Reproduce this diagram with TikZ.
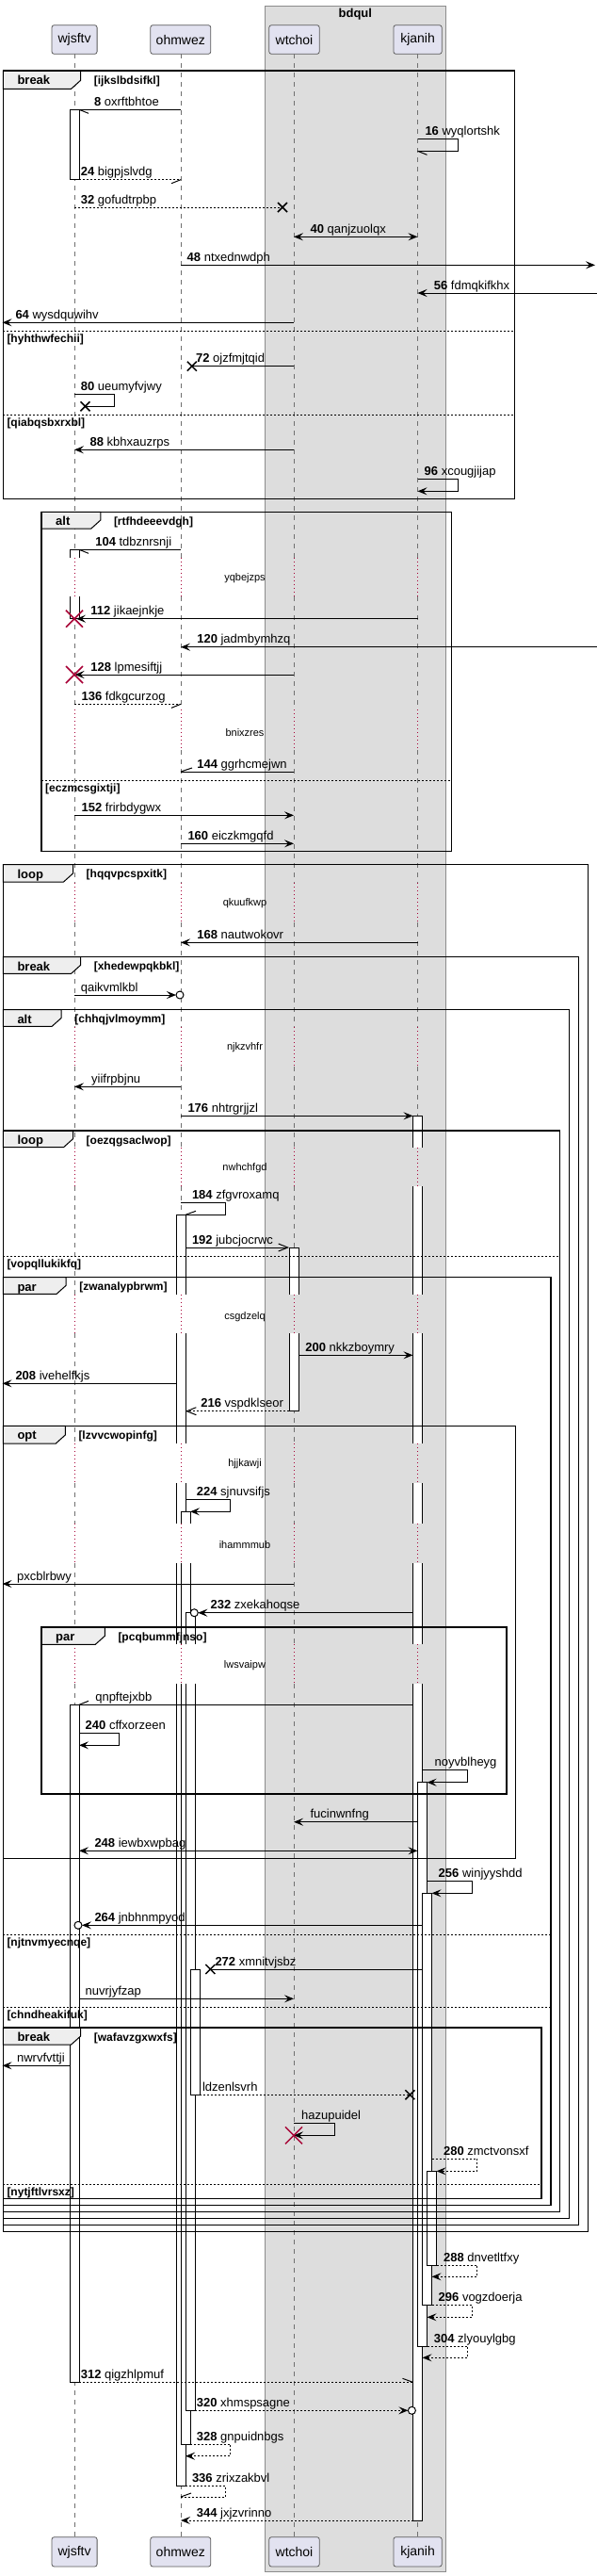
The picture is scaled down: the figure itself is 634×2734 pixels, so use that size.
\documentclass[tikz,border=0pt]{standalone}
\usepackage{fontspec}
\setmainfont{Liberation Sans}
\usetikzlibrary{arrows.meta}
\definecolor{partfill}{HTML}{E2E2F0}
\definecolor{partline}{HTML}{5A5A5A}
\definecolor{boxfill}{HTML}{DDDDDD}
\definecolor{boxline}{HTML}{8C8C8C}
\definecolor{delayred}{HTML}{A80036}
\definecolor{tabfill}{HTML}{EEEEEE}
\definecolor{lifegray}{HTML}{707070}
\newcommand\mf{\fontsize{13}{15}\selectfont}
\newcommand\pf{\fontsize{14}{16}\selectfont}
\newcommand\cf{\fontsize{12}{14}\selectfont\bfseries}
\newcommand\df{\fontsize{11}{13}\selectfont}
\tikzset{
  x=1pt, y=-1pt,
  msg/.style={line width=1pt},
  dmsg/.style={line width=1pt,dash pattern=on 2pt off 2pt},
  fh/.style={-{Stealth[length=10pt,width=8pt,inset=4pt]}},
  bh/.style={{Stealth[length=10pt,width=8pt,inset=4pt]}-{Stealth[length=10pt,width=8pt,inset=4pt]}},
  oh/.style={-{Straight Barb[length=10pt,width=8pt]}},
  lbl/.style={anchor=base west,inner sep=0pt,font=\mf},
  part/.style={draw=partline,fill=partfill,rounded corners=2.5pt,line width=0.8pt,font=\pf,inner sep=0pt},
  life/.style={draw=lifegray,line width=0.7pt,dash pattern=on 5pt off 5pt},
  dlyline/.style={draw=delayred,line width=0.8pt,dash pattern=on 1pt off 3pt},
  tabl/.style={anchor=base west,inner sep=0pt,font=\mf\bfseries},
  condl/.style={anchor=base west,inner sep=0pt,font=\cf},
  dlytext/.style={inner sep=0pt,font=\df},
}
\newcommand\ml[4]{\node[lbl] at (#1,#2-4) {\textbf{#3} #4};}
\newcommand\mn[3]{\node[lbl] at (#1,#2-4) {#3};}
\newcommand\hh[4]{\draw[msg] (#1,#2) -- ++(#3,#4);}
\newcommand\rx[2]{\draw[delayred,line width=1.5pt] (#1-9,#2-9) -- (#1+9,#2+9) (#1-9,#2+9) -- (#1+9,#2-9);}
\newcommand\bx[2]{\draw[line width=1.5pt] (#1-5,#2-5) -- (#1+5,#2+5) (#1-5,#2+5) -- (#1+5,#2-5);}
\newcommand\act[6]{%
  \fill[white] (#1,#3) rectangle (#2,#4);
  \ifnum#5#6=11 \draw[line width=1pt] (#1,#3) rectangle (#2,#4);%
  \else\ifnum#5#6=10 \draw[line width=1pt] (#1,#4) -- (#1,#3) -- (#2,#3) -- (#2,#4);%
  \else\ifnum#5#6=1 \draw[line width=1pt] (#1,#3) -- (#1,#4) -- (#2,#4) -- (#2,#3);%
  \else \draw[line width=1pt] (#1,#3) -- (#1,#4) (#2,#3) -- (#2,#4);%
  \fi\fi\fi}
\newcommand\grp[8]{%
  \filldraw[fill=tabfill,line width=1pt] (#1,#2) -- (#5,#2) -- (#5,#6-9) -- (#5-10,#6) -- (#1,#6) -- cycle;
  \draw[line width=1.5pt] (#1,#2) rectangle (#3,#4);
  \node[tabl] at (#1+15,#2+14.5) {#7};
  \node[condl] at (#5+14,#2+14) {[#8]};}
\newcommand\sep[4]{%
  \draw[line width=1pt,dash pattern=on 2pt off 2pt] (#1,#3) -- (#2,#3);
  \node[condl] at (#1+4,#3+12) {[#4]};}
\begin{document}
\begin{tikzpicture}
\useasboundingbox (0,0) rectangle (634,2734);
\fill[white] (0,0) rectangle (634,2734);
% box
\draw[fill=boxfill,draw=boxline,line width=0.8pt] (281.7,6) rectangle (472.9,2729.3);
\node[font=\mf\bfseries] (boxtitle) at (377.3,15) {bdqul};
% lifelines
\foreach \lx in {79,192,312,443.5}{
  \foreach \ya/\yb in {57.3/591.7,633.3/753.3,796/937,979/1090,1132/1217.7,1259.3/1374.3,1415/1532,1574/1617.3,1659.3/1745.3,1787.3/2692.7}{
    \draw[life] (\lx,\ya) -- (\lx,\yb);}
  \foreach \ya/\yb in {591.7/633.3,753.3/796,937/979,1090/1132,1217.7/1259.3,1374.3/1415,1532/1574,1617.3/1659.3,1745.3/1787.3}{
    \draw[dlyline] (\lx,\ya) -- (\lx,\yb);}
}
% participants
\node[part,minimum width=48.1pt,minimum height=30.6pt] (pAt) at (79.05,42) {wjsftv};
\node[part,minimum width=64pt,minimum height=30.6pt] (pBt) at (191.8,42) {ohmwez};
\node[part,minimum width=53.4pt,minimum height=30.6pt] (pCt) at (312.5,42) {wtchoi};
\node[part,minimum width=51.3pt,minimum height=30.6pt] (pDt) at (443.55,42) {kjanih};
\node[part,minimum width=48.1pt,minimum height=31.3pt] (pAb) at (79.05,2708.35) {wjsftv};
\node[part,minimum width=64pt,minimum height=31.3pt] (pBb) at (191.8,2708.35) {ohmwez};
\node[part,minimum width=53.4pt,minimum height=31.3pt] (pCb) at (312.5,2708.35) {wtchoi};
\node[part,minimum width=51.3pt,minimum height=31.3pt] (pDb) at (443.55,2708.35) {kjanih};
% delay texts
\node[dlytext] (d1) at (260,614) {yqbejzps};
\node[dlytext] (d2) at (260,777.3) {bnixzres};
\node[dlytext] (d3) at (260,958.3) {qkuufkwp};
\node[dlytext] (d4) at (260,1111.7) {njkzvhfr};
\node[dlytext] (d5) at (260,1239.3) {nwhchfgd};
\node[dlytext] (d6) at (260,1397.3) {csgdzelq};
\node[dlytext] (d7) at (260,1554) {hjjkawji};
\node[dlytext] (d8) at (260,1639.3) {ihammmub};
\node[dlytext] (d9) at (260,1767.3) {lwsvaipw};
% activations
\act{74}{84}{116.3}{190.7}{1}{1}
\act{74}{84}{583.3}{591.7}{1}{0}
\act{74}{84}{633.3}{656.7}{0}{1}
\act{74}{84}{1809.3}{2528.3}{1}{1}
\act{307}{317}{1324}{1374.3}{1}{0}
\act{307}{317}{1415}{1497.7}{0}{1}
\act{438.5}{448.5}{1184.3}{1217.7}{1}{0}
\act{438.5}{448.5}{1259.3}{1374.3}{0}{0}
\act{438.5}{448.5}{1415}{1532}{0}{0}
\act{438.5}{448.5}{1574}{1617.3}{0}{0}
\act{438.5}{448.5}{1659.3}{1745.3}{0}{0}
\act{438.5}{448.5}{1787.3}{2675}{0}{1}
\act{443.5}{453.5}{1891.7}{2490.3}{1}{1}
\act{448.5}{458.5}{2009.3}{2446.7}{1}{1}
\act{453.5}{463.5}{2304.3}{2404}{1}{1}
\act{187}{197}{1289.3}{1374.3}{1}{0}
\act{187}{197}{1415}{1532}{0}{0}
\act{187}{197}{1574}{1617.3}{0}{0}
\act{187}{197}{1659.3}{1745.3}{0}{0}
\act{187}{197}{1787.3}{2638.3}{0}{1}
\act{192}{202}{1604.3}{1617.3}{1}{0}
\act{192}{202}{1659.3}{1745.3}{0}{0}
\act{192}{202}{1787.3}{2594}{0}{1}
\act{197}{207}{1711.7}{1745.3}{1}{0}
\act{197}{207}{1787.3}{2558.3}{0}{1}
\act{202}{212}{2090}{2223.3}{1}{1}
% frames
\grp{3.3}{75}{546.3}{529.3}{85.6}{94.3}{break}{ijkslbdsifkl}
\sep{3.3}{546.3}{351.3}{hyhthwfechii}
\sep{3.3}{546.3}{440.7}{qiabqsbxrxbl}
\grp{44}{543.3}{479.4}{903.3}{106.8}{561}{alt}{rtfhdeeevdgh}
\sep{44}{479.4}{828}{eczmcsgixtji}
\grp{3.3}{917.7}{624.5}{2368.7}{77.5}{936}{loop}{hqqvpcspxitk}
\grp{3.3}{1015.7}{614.4}{2361.3}{85.6}{1033.3}{break}{xhedewpqkbkl}
\grp{3.3}{1071.7}{604.6}{2354.3}{65.2}{1089.3}{alt}{chhqjvlmoymm}
\grp{3.3}{1200}{594.4}{2347.3}{77.5}{1217.7}{loop}{oezqgsaclwop}
\sep{3.3}{594.4}{1333}{vopqllukikfq}
\grp{3.3}{1355.7}{585}{2340.3}{70.1}{1373.3}{par}{zwanalypbrwm}
\sep{3.3}{585}{2053.3}{njtnvmyecnqe}
\sep{3.3}{585}{2130.3}{chndheakifuk}
\grp{3.3}{1513.3}{547.5}{1972.3}{69.3}{1532}{opt}{lzvvcwopinfg}
\grp{44}{1727}{538.1}{1904}{111.3}{1745.3}{par}{pcqbummfjnso}
\grp{3.3}{2152}{574.8}{2333.3}{85.6}{2170}{break}{wafavzgxwxfs}
\sep{3.3}{574.8}{2318.3}{nytjftlvrsxz}
% messages
\draw[msg] (192,116.3) -- (84,116.3); \hh{84}{116.3}{10}{4} \ml{99.9}{116.3}{8}{oxrftbhtoe}
\draw[msg] (443.5,147) -- (486.3,147) -- (486.3,160.3) -- (443.5,160.3); \hh{443.5}{160.3}{10}{4} \ml{451.3}{147}{16}{wyqlortshk}
\draw[dmsg] (84,190.7) -- (192,190.7); \hh{192}{190.7}{-10}{4} \ml{85.6}{190.7}{24}{bigpjslvdg}
\draw[dmsg] (79,220) -- (300,220); \bx{300}{220} \ml{85.6}{220}{32}{gofudtrpbp}
\draw[msg,bh] (312,251.3) -- (443.5,251.3); \ml{329.4}{251.3}{40}{qanjzuolqx}
\draw[msg,fh] (192,281.3) -- (632,281.3); \ml{198.5}{281.3}{48}{ntxednwdph}
\draw[msg,fh] (634,311) -- (443.5,311); \ml{460.7}{311}{56}{fdmqkifkhx}
\draw[msg,fh] (312,342.3) -- (2.5,342.3); \ml{16.3}{342.3}{64}{wysdquwihv}
\draw[msg] (312,388.7) -- (203.8,388.7); \bx{203.8}{388.7} \ml{207.9}{388.7}{72}{ojzfmjtqid}
\draw[msg] (79,418.7) -- (121.5,418.7) -- (121.5,431.3) -- (90.5,431.3); \bx{90.5}{431.3} \ml{85.6}{418.7}{80}{ueumyfvjwy}
\draw[msg,fh] (312,477.3) -- (79,477.3); \ml{95.4}{477.3}{88}{kbhxauzrps}
\draw[msg,fh] (443.5,508.7) -- (486.3,508.7) -- (486.3,521.3) -- (443.5,521.3); \ml{450.5}{508.7}{96}{xcougjijap}
\draw[msg] (192,583.3) -- (84,583.3); \hh{84}{583.3}{10}{4} \ml{101.1}{583.3}{104}{tdbznrsnji}
\draw[msg,fh] (443.5,656.7) -- (81,656.7); \rx{79}{656.7} \ml{96.2}{656.7}{112}{jikaejnkje}
\draw[msg,fh] (634,686.7) -- (192,686.7); \ml{209.1}{686.7}{120}{jadmbymhzq}
\draw[msg,fh] (312,716) -- (79.5,716); \rx{79}{716} \ml{96.2}{716}{128}{lpmesiftjj}
\draw[dmsg] (79,747.3) -- (192,747.3); \hh{192}{747.3}{-10}{4} \ml{86.4}{747.3}{136}{fdkgcurzog}
\draw[msg] (312,819) -- (192,819); \hh{192}{819}{12}{-4} \ml{209.1}{819}{144}{ggrhcmejwn}
\draw[msg,fh] (79,865.3) -- (312,865.3); \ml{86.4}{865.3}{152}{frirbdygwx}
\draw[msg,fh] (192,895.3) -- (312,895.3); \ml{199.3}{895.3}{160}{eiczkmgqfd}
\draw[msg,fh] (443.5,1000.3) -- (192,1000.3); \ml{209.1}{1000.3}{168}{nautwokovr}
\draw[msg,fh] (79,1056) -- (187,1056); \draw[msg,fill=white] (191,1056) circle (4pt); \mn{85.6}{1056}{qaikvmlkbl}
\draw[msg,fh] (192,1153.3) -- (79,1153.3); \mn{97}{1153.3}{yiifrpbjnu}
\draw[msg,fh] (192,1184.3) -- (438.5,1184.3); \ml{199.3}{1184.3}{176}{nhtrgrjjzl}
\draw[msg] (192,1276.7) -- (239.7,1276.7) -- (239.7,1289.3) -- (197,1289.3); \hh{197}{1289.3}{11}{-4} \ml{203.8}{1276.7}{184}{zfgvroxamq}
\draw[msg,oh] (197,1324) -- (307,1324); \ml{203.8}{1324}{192}{jubcjocrwc}
\draw[msg,fh] (317,1438.3) -- (438.5,1438.3); \ml{324.1}{1438.3}{200}{nkkzboymry}
\draw[msg,fh] (187,1468.3) -- (2.5,1468.3); \ml{16.3}{1468.3}{208}{ivehelfkjs}
\draw[dmsg,oh] (307,1497.7) -- (197,1497.7); \ml{213.2}{1497.7}{216}{vspdklseor}
\draw[msg,fh] (197,1591) -- (244.6,1591) -- (244.6,1604.3) -- (202,1604.3); \ml{208.7}{1591}{224}{sjnuvsifjs}
\draw[msg,fh] (312,1681) -- (2.5,1681); \mn{17.9}{1681}{pxcblrbwy}
\draw[msg,fh] (438.5,1711.7) -- (210.3,1711.7); \draw[msg,fill=white] (206.3,1711.7) circle (4pt); \ml{223.4}{1711.7}{232}{zxekahoqse}
\draw[msg] (438.5,1809.3) -- (84,1809.3); \hh{84}{1809.3}{10}{-4} \mn{101.1}{1809.3}{qnpftejxbb}
\draw[msg,fh] (84,1839.3) -- (126.4,1839.3) -- (126.4,1852.3) -- (84,1852.3); \ml{90.5}{1839.3}{240}{cffxorzeen}
\draw[msg,fh] (448.5,1878.3) -- (496.5,1878.3) -- (496.5,1891.7) -- (453.5,1891.7); \mn{461.5}{1878.3}{noyvblheyg}
\draw[msg,fh] (443.5,1933.7) -- (312,1933.7); \mn{329.4}{1933.7}{fucinwnfng}
\draw[msg,bh] (84,1964.3) -- (443.5,1964.3); \ml{100.3}{1964.3}{248}{iewbxwpbag}
\draw[msg,fh] (453.5,1996.3) -- (501.4,1996.3) -- (501.4,2009.3) -- (458.5,2009.3); \ml{465.5}{1996.3}{256}{winjyyshdd}
\draw[msg,fh] (448.5,2043.3) -- (87,2043.3); \draw[msg,fill=white] (83,2043.3) circle (4pt); \ml{100.3}{2043.3}{264}{jnbhnmpyod}
\draw[msg] (448.5,2090) -- (223.4,2090); \bx{223.4}{2090} \ml{228.3}{2090}{272}{xmnitvjsbz}
\draw[msg,fh] (84,2121.3) -- (312,2121.3); \mn{90.5}{2121.3}{nuvrjyfzap}
\draw[msg,fh] (74,2192.3) -- (2.5,2192.3); \mn{17.9}{2192.3}{nwrvfvttji}
\draw[dmsg] (212,2223.3) -- (435.4,2223.3); \bx{435.4}{2223.3} \mn{214.8}{2223.3}{ldzenlsvrh}
\draw[msg,fh] (312,2253) -- (355.5,2253) -- (355.5,2266.3) -- (312,2266.3); \rx{312}{2266.3} \mn{320}{2253}{hazupuidel}
\draw[dmsg,fh] (458.5,2291) -- (506.7,2291) -- (506.7,2304.3) -- (463.5,2304.3); \ml{470.9}{2291}{280}{zmctvonsxf}
\draw[dmsg,fh] (463.5,2404) -- (506.7,2404) -- (506.7,2416.3) -- (458.5,2416.3); \ml{470.9}{2404}{288}{dnvetltfxy}
\draw[dmsg,fh] (458.5,2446.7) -- (501.4,2446.7) -- (501.4,2459.3) -- (453.5,2459.3); \ml{465.5}{2446.7}{296}{vogzdoerja}
\draw[dmsg,fh] (453.5,2490.3) -- (496.5,2490.3) -- (496.5,2502.3) -- (448.5,2502.3); \ml{460.7}{2490.3}{304}{zlyouylgbg}
\draw[dmsg] (84,2528.3) -- (438.5,2528.3); \hh{438.5}{2528.3}{-11}{-4} \ml{85.6}{2528.3}{312}{qigzhlpmuf}
\draw[dmsg,fh] (207,2558.3) -- (433.4,2558.3); \draw[msg,fill=white] (437.4,2558.3) circle (4pt); \ml{208.7}{2558.3}{320}{xhmspsagne}
\draw[dmsg,fh] (202,2594) -- (244.6,2594) -- (244.6,2606.7) -- (197,2606.7); \ml{208.7}{2594}{328}{gnpuidnbgs}
\draw[dmsg] (197,2638.3) -- (239.7,2638.3) -- (239.7,2650) -- (192,2650); \hh{192}{2650}{11}{-4} \ml{203.8}{2638.3}{336}{zrixzakbvl}
\draw[dmsg,fh] (438.5,2675) -- (192,2675); \ml{208.7}{2675}{344}{jxjzvrinno}
\end{tikzpicture}
\end{document}
